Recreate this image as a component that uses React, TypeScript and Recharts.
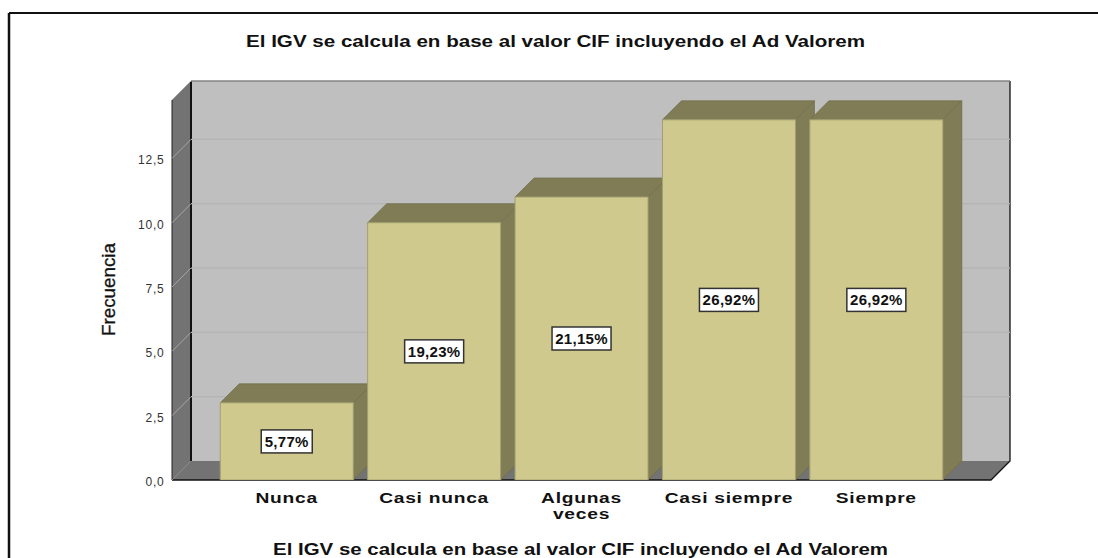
import React from "react";
import { BarChart, Bar, XAxis, YAxis, CartesianGrid, LabelList } from "recharts";

const categories = ["Nunca", "Casi nunca", "Algunas\nveces", "Casi siempre", "Siempre"];
const frequencies = [3, 10, 11, 14, 14];
const percentLabels = ["5,77%", "19,23%", "21,15%", "26,92%", "26,92%"];
const yTicks = [0, 2.5, 5, 7.5, 10, 12.5];
const chartTitle = "El IGV se calcula en base al valor CIF incluyendo el Ad Valorem";
const yTitle = "Frecuencia";

const rows = categories.map((c, i) => ({ category: c, value: frequencies[i], pct: percentLabels[i] }));

const W = 1098, H = 558;
const L = 172, T = 100, R = 991, B = 480, D = 19;
const FONT = "'Liberation Sans', Arial, sans-serif";

const Walls = () => (
  <g key="walls">
    <polygon points={`${L + D},${T - D} ${R + D},${T - D} ${R + D},${B - D} ${L + D},${B - D}`} fill="#bfbfbf" />
    <polygon points={`${L},${T} ${L + D},${T - D} ${L + D},${B - D} ${L},${B}`} fill="#737373" />
    <polygon points={`${L},${B} ${L + D},${B - D} ${R + D},${B - D} ${R},${B}`} fill="#737373" />
    <polyline points={`${L},${B} ${L},${T} ${L + D},${T - D} ${R + D},${T - D}`} fill="none" stroke="#222" strokeWidth={1} />
    <polyline points={`${R + D},${T - D} ${R + D},${B - D} ${R},${B} ${L},${B}`} fill="none" stroke="#111" strokeWidth={1.3} />
    <line x1={L + D} y1={T - D} x2={L + D} y2={B - D} stroke="#111" strokeWidth={2} />
    <line x1={L + D} y1={B - D} x2={L} y2={B} stroke="#8c8c8c" strokeWidth={1} />
  </g>
);

const wallLayer = (p: any) => (Math.abs(p.y1 - B) < 1 ? <Walls key="walls" /> : <g key={p.y1} />);

const gridLine = (p: any) => {
  const y = p.y1;
  if (Math.abs(y - B) < 1) return <g key="zero" />;
  return (
    <g key={y}>
      <line x1={L} y1={y} x2={L + D} y2={y - D} stroke="#a6a6a6" strokeWidth={1} />
      <line x1={L + D} y1={y - D} x2={R + D} y2={y - D} stroke="#b4b4b4" strokeWidth={1.2} />
    </g>
  );
};

const Box3D = (p: any) => {
  const { x, y, width, height } = p;
  const r = x + width, b = y + height;
  return (
    <g>
      <polygon points={`${x},${y} ${x + D},${y - D} ${r + D},${y - D} ${r},${y}`} fill="#807c56" stroke="#6f6b49" strokeWidth={0.7} />
      <polygon points={`${r},${y} ${r + D},${y - D} ${r + D},${b - D} ${r},${b}`} fill="#807c56" stroke="#6f6b49" strokeWidth={0.7} />
      <rect x={x} y={y} width={width} height={height} fill="#cfc98d" stroke="#a3a070" strokeWidth={1} />
    </g>
  );
};

const PctLabel = (p: any) => {
  const { x, y, width, height, value } = p;
  const cx = x + width / 2, cy = y + height / 2;
  const bw = String(value).length > 5 ? 59 : 51;
  return (
    <g>
      <rect x={cx - bw / 2} y={cy - 11.5} width={bw} height={23} fill="#fff" stroke="#333" strokeWidth={1.5} />
      <text x={cx} y={cy + 5.5} textAnchor="middle" fontFamily={FONT} fontWeight={700} fontSize={15} letterSpacing={0.3} fill="#111">{value}</text>
    </g>
  );
};

const YTick = (p: any) => (
  <text x={164.5} y={p.y + 6} textAnchor="end" fontFamily={FONT} fontSize={12} letterSpacing={0.8} fill="#333">
    {String(p.payload.value.toFixed(1)).replace(".", ",")}
  </text>
);

const XTick = (p: any) => {
  const lines = String(p.payload.value).split("\n");
  return (
    <text transform={`translate(${p.x},0) scale(1.24,1)`} textAnchor="middle" fontFamily={FONT} fontWeight={700} fontSize={15.5} letterSpacing={0.6} fill="#111">
      {lines.map((l, i) => (
        <tspan key={l} x={0} y={503 + i * 16}>{l}</tspan>
      ))}
    </text>
  );
};

export default function App() {
  return (
    <div style={{ position: "absolute", left: 0, top: 0, width: W, height: H, background: "#fff", overflow: "hidden" }}>
      <BarChart
        width={W}
        height={H}
        data={rows}
        margin={{ top: T, left: L - 60, right: W - R, bottom: 0 }}
        barCategoryGap={7.25}
      >
        <CartesianGrid horizontal={wallLayer} vertical={false} fill="none" />
        <CartesianGrid horizontal={gridLine} vertical={false} fill="none" />
        <XAxis
          dataKey="category"
          height={H - B}
          padding={{ left: 41, right: 41 }}
          interval={0}
          axisLine={false}
          tickLine={false}
          tick={<XTick />}
        />
        <YAxis
          width={60}
          domain={[0, 14.77]}
          ticks={yTicks}
          allowDataOverflow
          axisLine={false}
          tickLine={false}
          tick={<YTick />}
        />
        <Bar dataKey="value" isAnimationActive={false} shape={<Box3D />}>
          <LabelList dataKey="pct" content={<PctLabel />} />
        </Bar>
        <line x1={9} y1={13} x2={W} y2={13} stroke="#111" strokeWidth={2} />
        <line x1={9} y1={13} x2={9} y2={H} stroke="#111" strokeWidth={2.5} />
        <text x={555.5} y={47} textAnchor="middle" fontFamily={FONT} fontWeight={700} fontSize={16} textLength={619} lengthAdjust="spacingAndGlyphs" fill="#111">{chartTitle}</text>
        <text x={580.5} y={554.5} textAnchor="middle" fontFamily={FONT} fontWeight={700} fontSize={16} textLength={615} lengthAdjust="spacingAndGlyphs" fill="#111">{chartTitle}</text>
        <text transform="translate(115,289.5) rotate(-90)" textAnchor="middle" fontFamily={FONT} fontSize={18} textLength={93} lengthAdjust="spacingAndGlyphs" fill="#111" stroke="#111" strokeWidth={0.3}>{yTitle}</text>
      </BarChart>
    </div>
  );
}
